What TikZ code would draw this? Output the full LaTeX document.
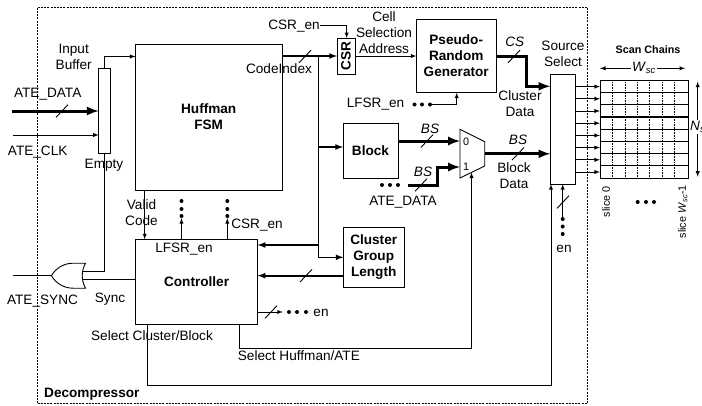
\documentclass[tikz,border=0pt]{standalone}
\usepackage{fontspec}
\setmainfont{Liberation Sans}
\usetikzlibrary{shapes.gates.logic.US}
\newcommand{\busmark}[2]{\draw[wire] (#1-6,#2+6.3) -- (#1+6,#2-6.3);}

\begin{document}
\begin{tikzpicture}%
[x=1pt, y=-1pt,%
font=\fontsize{13.6}{16}\selectfont,%
wire/.style={line width=0.9pt},%
medbus/.style={line width=1.6pt},%
bus/.style={line width=3pt},%
blockbox/.style={draw, line width=0.9pt, inner sep=0pt, outer sep=0pt, align=center, font=\fontsize{13.6}{16}\selectfont\bfseries},%
lbl/.style={inner sep=0pt, align=center},%
tiny/.style={inner sep=0pt, align=center, font=\fontsize{10.8}{13}\selectfont},%
dots/.style={fill, inner sep=0pt, minimum size=4pt, shape=circle}]

\useasboundingbox (0,0) rectangle (702,405);

\node[draw, dashed, line width=0.7pt, dash pattern=on 2pt off 1.2pt, minimum width=550pt, minimum height=396.7pt, outer sep=0pt] (frame) at (312.5,205.3) {};

\node[blockbox, minimum width=12pt, minimum height=85pt] (buffer) at (104.7,110.5) {};
\node[blockbox, minimum width=146.5pt, minimum height=146pt] (huffman) at (208.7,117) {Huffman\\FSM};
\node[blockbox, minimum width=18pt, minimum height=36pt] (csr) at (346,56) {\rotatebox{90}{CSR}};
\node[blockbox, minimum width=79.7pt, minimum height=73.4pt] (prg) at (456.2,56) {Pseudo-\\Random\\Generator};
\node[blockbox, minimum width=55pt, minimum height=55pt] (block) at (370.5,150.5) {Block};
\node[blockbox, minimum width=60.7pt, minimum height=60.7pt] (cluster) at (373.7,257.3) {Cluster\\Group\\Length};
\node[blockbox, minimum width=122.2pt, minimum height=84.7pt] (controller) at (196.6,281.6) {Controller};
\node[blockbox, minimum width=25pt, minimum height=110pt] (source) at (562.8,129.2) {};
\node[blockbox, minimum width=88.7pt, minimum height=97.6pt] (scan) at (644.3,129.2) {};

\node[or gate US, draw, logic gate inputs=nn, line width=0.9pt, rotate=180, minimum width=32pt, minimum height=25pt, inner sep=0pt, outer sep=0pt] (orgate) at (71,275.7) {};

\coordinate (muxa) at (460,129.3);
\coordinate (muxb) at (484.7,141.7);
\coordinate (muxc) at (484.7,166);
\coordinate (muxd) at (460,178);
\coordinate (muxout) at (484.7,153.8);
\draw[wire] (muxa) -- (muxb) -- (muxc) -- (muxd) -- cycle;
\node[tiny] (muxzero) at (466,141.5) {0};
\node[tiny] (muxone) at (466,166.7) {1};

% scan grid
\foreach \r in {1,...,7} {
  \pgfmathsetmacro{\yy}{80.4+12.2*\r}
  \draw[line width=1.1pt] (scan.west |- 0,\yy) -- (scan.east |- 0,\yy);
}
\foreach \c in {1,...,6} {
  \pgfmathsetmacro{\xx}{600+12.4*\c}
  \draw[line width=0.6pt, densely dotted] (\xx,0 |- scan.north) -- (\xx,0 |- scan.south);
}
\foreach \r in {0,...,7} {
  \pgfmathsetmacro{\yy}{86.6+12.2*\r}
  \draw[wire,-latex] (source.east |- 0,\yy) -- (scan.west |- 0,\yy);
}

% dots
\foreach \x [count=\i] in {382,390,398} \node[dots] (atedot\i) at (\x,185) {};
\foreach \x [count=\i] in {414.5,422,430} \node[dots] (lfsrdot\i) at (\x,104.5) {};
\foreach \x [count=\i] in {289,297,306} \node[dots] (ctrldot\i) at (\x,312) {};
\foreach \y [count=\i] in {216,209,201} \node[dots] (lfsrup\i) at (181.5,\y) {};
\foreach \y [count=\i] in {216,209,201} \node[dots] (csrup\i) at (227.3,\y) {};
\foreach \y [count=\i] in {219,226.5,234} \node[dots] (endot\i) at (562.7,\y) {};
\foreach \x [count=\i] in {637.7,646,654} \node[dots] (slicedot\i) at (\x,202) {};

% left side
\coordinate (atedatain) at (12,111);
\coordinate (ateclkin) at (13,135);
\coordinate (atesyncin) at (13,0 |- orgate.output);
\draw[bus,-latex] (atedatain) -- (atedatain -| buffer.west);
\busmark{62}{111}
\draw[wire,-latex] (ateclkin) -- (ateclkin -| buffer.west);
\draw[wire,-latex] (buffer.north) |- (huffman.west |- 0,56.5);
\draw[wire] (buffer.south) |- (orgate.input 2);
\draw[wire] (orgate.input 1) -- (controller.west |- orgate.input 1);
\draw[wire] (atesyncin) -- (orgate.output);

% huffman outputs
\coordinate (codejoint) at (318.5,0 |- csr.west);
\draw[medbus,-latex] (huffman.east |- csr.west) -- (csr.west);
\busmark{305}{56.5}
\draw[medbus,-latex] (codejoint) |- (cluster.west);
\draw[medbus,-latex] (codejoint |- 0,147) -- (block.west |- 0,147);
\draw[medbus,-latex] (codejoint |- 0,245) -- (controller.east |- 0,245);
\draw[medbus,-latex] (cluster.west |- 0,275.7) -- (controller.east |- 0,275.7);
\busmark{306}{275.7}
\draw[wire,-latex] (144.7,0 |- huffman.south) -- (144.7,0 |- controller.north);
\draw[wire,-latex] (lfsrup1 |- controller.north) -- (lfsrup1);
\draw[wire,-latex] (csrup1 |- controller.north) -- (csrup1);
\draw[wire,-latex, shorten >=4pt] (controller.east |- ctrldot1) -- (ctrldot1);
\busmark{271}{312}

% csr, prg
\coordinate (csrencorner) at (346.7,25.5);
\draw[wire,-latex] (320,25.5) -- (csrencorner) -- (csrencorner |- csr.north);
\draw[wire,-latex] (csr.east) -- (prg.west |- csr.east);
\draw[wire,-latex] (lfsrdot3) -| (456.7,0 |- prg.south);

% data paths
\draw[bus,-latex] (prg.east |- 0,56.5) -- (526.7,56.5) -- (526.7,86.3) -- (source.west |- 0,86.3);
\busmark{514}{56.5}
\draw[bus,-latex] (block.east |- 0,141) -- (muxa |- 0,141);
\busmark{427}{141}
\draw[bus,-latex] (atedot3) ++(10,0) -- (437,185) -- (437,167) -- (muxa |- 0,167);
\busmark{421}{185}
\draw[bus,-latex] (muxout) -- (source.west |- muxout);
\busmark{518}{153.8}

% select lines
\draw[wire,-latex] (239.3,0 |- controller.south) -- (239.3,348.3) -- (471.5,348.3) -- (471.5,172.5);
\draw[wire,-latex] (147.7,0 |- controller.south) -- (147.7,385) -- (551,385) -- (551,0 |- source.south);
\draw[wire,-latex] (endot1) -- (endot1 |- source.south);
\busmark{563}{202}

% scan dimensions
\coordinate (wleft) at (600,68.3);
\coordinate (wright) at (685,68.3);
\coordinate (nleft) at (697.7,81.7);
\coordinate (nright) at (697.7,176.7);
\draw[wire,latex-latex] (wleft) -- (wright);
\draw[wire,latex-latex] (nleft) -- (nright);

% labels
\node[lbl] (inputlabel) at (73.7,56.5) {Input\\Buffer};
\node[lbl] (atedatalabel) at (47.7,93.7) {ATE\_DATA};
\node[lbl] (ateclklabel) at (37.7,152) {ATE\_CLK};
\node[lbl] (emptylabel) at (104,165.7) {Empty};
\node[lbl] (validlabel) at (141.5,213) {Valid\\Code};
\node[lbl] (atesynclabel) at (42.5,300.7) {ATE\_SYNC};
\node[lbl] (synclabel) at (110,298.7) {Sync};
\node[lbl] (lfsrlabel) at (184,249) {LFSR\_en};
\node[lbl] (csrlabel) at (257,225) {CSR\_en};
\node[lbl] (codelabel) at (279,69) {CodeIndex};
\node[lbl] (csrenlabel) at (294,25.7) {CSR\_en};
\node[lbl] (addrlabel) at (384,33) {Cell\\Selection\\Address};
\node[lbl] (lfsrenlabel) at (375.5,103.7) {LFSR\_en};
\node[lbl] (selclusterlabel) at (152,336) {Select Cluster/Block};
\node[lbl, anchor=west] (selhufflabel) at (237.7,356) {Select Huffman/ATE};
\node[lbl] (enlabel) at (321,313) {en};
\node[lbl, font=\fontsize{13.6}{16}\selectfont\bfseries, anchor=west] (decomplabel) at (44,394) {Decompressor};
\node[lbl] (atedatatwo) at (403,202) {ATE\_DATA};
\node[lbl, font=\fontsize{13.6}{16}\selectfont\itshape] (bsone) at (430,129) {BS};
\node[lbl, font=\fontsize{13.6}{16}\selectfont\itshape] (bstwo) at (423,172) {BS};
\node[lbl, font=\fontsize{13.6}{16}\selectfont\itshape] (bsthree) at (518,140) {BS};
\node[lbl, font=\fontsize{13.6}{16}\selectfont\itshape] (cslabel) at (514.7,42) {CS};
\node[lbl] (clusterdata) at (520,104) {Cluster\\Data};
\node[lbl] (blockdata) at (514,176) {Block\\Data};
\node[lbl] (sourcelabel) at (563,54) {Source\\Select};
\node[lbl] (enlabeltwo) at (564,248.7) {en};
\node[tiny, font=\fontsize{10.8}{13}\selectfont\bfseries] (scanlabel) at (648,50) {Scan Chains};
\node[lbl, fill=white, inner sep=1pt] (wsclabel) at (644,68) {\textit{W}\textsubscript{\textit{sc}}};
\node[lbl, fill=white, inner sep=1pt, anchor=west] (nsclabel) at (689,127) {\textit{N}\textsubscript{\textit{sc}}};
\node[tiny, rotate=90] (slicezero) at (606,201.7) {slice 0};
\node[tiny, rotate=90] (slicelast) at (682.7,211.7) {slice \textit{W}\textsubscript{\textit{sc}}-1};
\end{tikzpicture}
\end{document}
